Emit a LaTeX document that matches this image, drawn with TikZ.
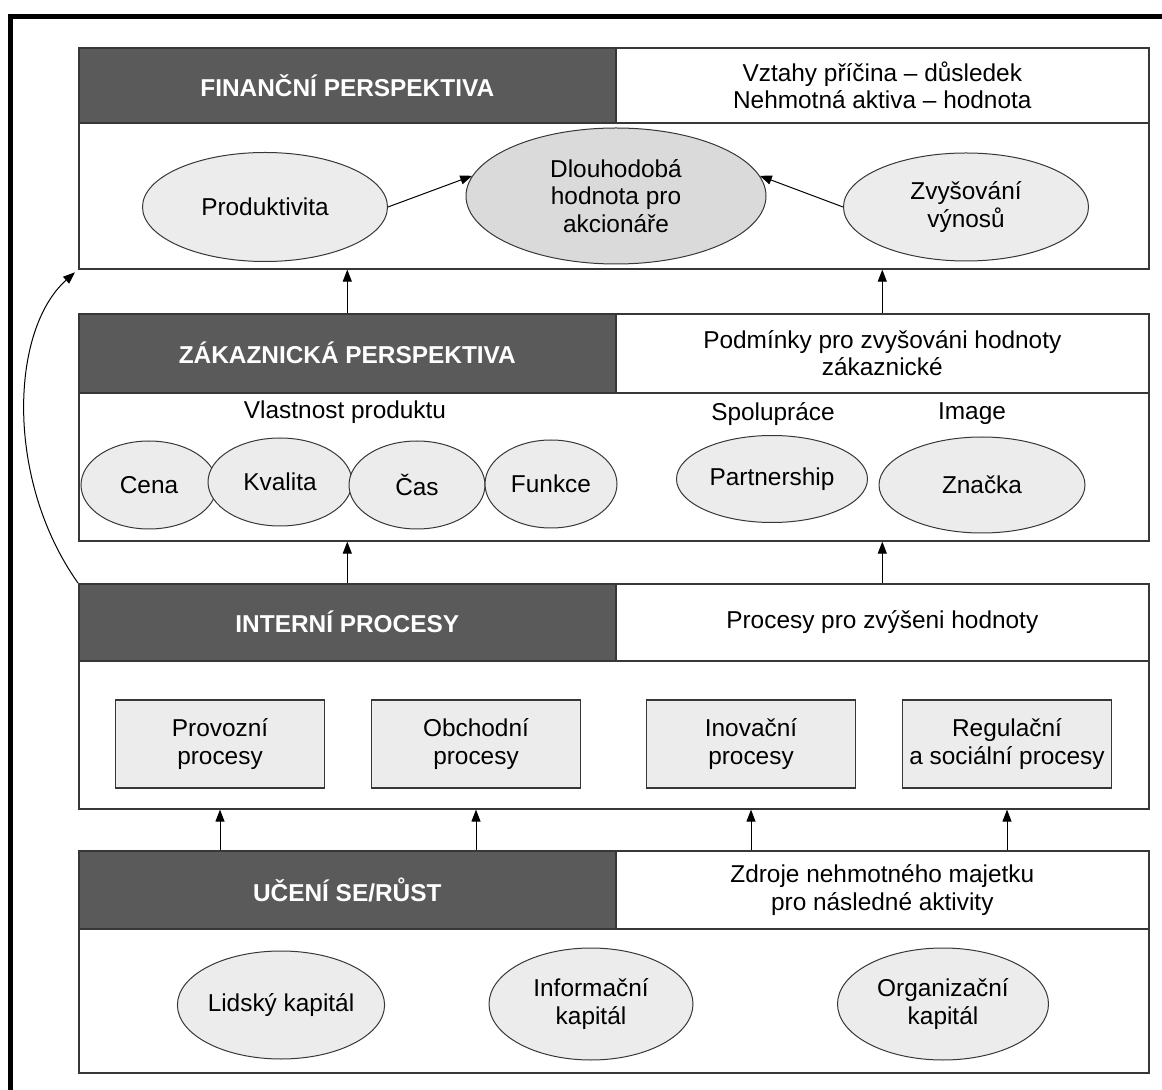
\documentclass[tikz,border=0pt]{standalone}
\usepackage{fontspec}
\setmainfont{Liberation Sans}
\usetikzlibrary{shapes.geometric,positioning,arrows.meta}

\definecolor{headgray}{RGB}{90,90,90}
\definecolor{ovalgray}{RGB}{236,236,236}
\definecolor{coregray}{RGB}{218,218,218}
\definecolor{linegray}{RGB}{55,55,55}

\tikzset{
  layer/.style={draw=linegray, line width=0.8pt, anchor=north west, inner sep=0pt, minimum width=535pt},
  headbox/.style={draw=linegray, line width=0.8pt, fill=headgray, anchor=north west, inner sep=0pt,
    minimum width=268.5pt, text=white, font=\fontsize{12.2}{14}\selectfont\bfseries},
  notebox/.style={draw=linegray, line width=0.8pt, anchor=north west, inner sep=0pt,
    minimum width=266.5pt, align=center},
  oval/.style={ellipse, draw=linegray, line width=0.5pt, fill=ovalgray, inner sep=0pt, align=center},
  procbox/.style={rectangle, draw=linegray, line width=0.8pt, fill=ovalgray, inner sep=0pt,
    minimum width=104.5pt, minimum height=44pt, align=center},
  up/.style={-{Triangle[length=6pt,width=4.5pt]}, line width=0.5pt},
}

\begin{document}
\begin{tikzpicture}[x=0.5pt, y=-0.5pt, font=\fontsize{12.2}{13.8}\selectfont]
\useasboundingbox (0,0) rectangle (1162,1090);
% frame
\draw[line width=2.5pt] (10.5,1090) |- (1162,17);

% financni perspektiva
\node[layer, minimum height=110.5pt] (fin) at (78,47) {};
\node[headbox, minimum height=37.5pt] (finhead) at (78,47) {FINANČNÍ PERSPEKTIVA};
\node[notebox, minimum height=37.5pt] (finnote) at (615,47) {Vztahy příčina – důsledek\\Nehmotná aktiva – hodnota};
\node[oval, minimum width=122.5pt, minimum height=54.5pt] (prod) at (265,207) {Produktivita};
\node[oval, fill=coregray, minimum width=150pt, minimum height=68pt] (core) at (616,196) {Dlouhodobá\\hodnota pro\\akcionáře};
\node[oval, minimum width=122.5pt, minimum height=54pt] (rev) at (966,207) {Zvyšování\\výnosů};
\draw[up] (prod.east) -- (core.172);
\draw[up] (rev.west) -- (core.8);

% zakaznicka perspektiva
\node[layer, minimum height=113.5pt] (cust) at (78,313) {};
\node[headbox, minimum height=39.5pt] (custhead) at (78,313) {ZÁKAZNICKÁ PERSPEKTIVA};
\node[notebox, minimum height=39.5pt] (custnote) at (615,313) {Podmínky pro zvyšováni hodnoty\\zákaznické};
\node (prop) at (345,412) {Vlastnost produktu};
\node (coop) at (773,414) {Spolupráce};
\node (img) at (972,414) {Image};
\node[oval, minimum width=68pt, minimum height=44pt] (price) at (149,485) {Cena};
\node[oval, minimum width=72pt, minimum height=44pt] (quality) at (280,482) {Kvalita};
\node[oval, minimum width=68pt, minimum height=44pt] (time) at (417,485) {Čas};
\node[oval, minimum width=66pt, minimum height=44pt] (func) at (551,484) {Funkce};
\node[oval, minimum width=95.5pt, minimum height=43.5pt] (partner) at (772,479) {Partnership};
\node[oval, minimum width=103pt, minimum height=48pt] (brand) at (982,485) {Značka};

% interni procesy
\node[layer, minimum height=112.5pt] (int) at (78,583) {};
\node[headbox, minimum height=38.5pt] (inthead) at (78,583) {INTERNÍ PROCESY};
\node[notebox, minimum height=38.5pt] (intnote) at (615,583) {Procesy pro zvýšeni hodnoty};
\node[procbox] (oper) at (220,744) {Provozní\\procesy};
\node[procbox] (trade) at (476,744) {Obchodní\\procesy};
\node[procbox] (innov) at (751,744) {Inovační\\procesy};
\node[procbox] (social) at (1007,744) {Regulační\\a sociální procesy};

% uceni se / rust
\node[layer, minimum height=111pt] (learn) at (78,850) {};
\node[headbox, minimum height=39pt] (learnhead) at (78,850) {UČENÍ SE/RŮST};
\node[notebox, minimum height=39pt] (learnnote) at (615,850) {Zdroje nehmotného majetku\\pro následné aktivity};
\node[oval, minimum width=103.5pt, minimum height=54pt] (human) at (281,1005) {Lidský kapitál};
\node[oval, minimum width=102pt, minimum height=56pt] (info) at (591,1004) {Informační\\kapitál};
\node[oval, minimum width=105.5pt, minimum height=56pt] (org) at (943,1004) {Organizační\\kapitál};

% sipky mezi vrstvami
\draw[up] (cust.north -| finhead) -- (fin.south -| finhead);
\draw[up] (cust.north -| finnote) -- (fin.south -| finnote);
\draw[up] (int.north -| custhead) -- (cust.south -| custhead);
\draw[up] (int.north -| custnote) -- (cust.south -| custnote);
\foreach \p in {oper,trade,innov,social}
  \draw[up] (learn.north -| \p) -- (int.south -| \p);
\draw[up, shorten >=2pt] (int.north west) .. controls (5,480) and (10,330) .. (fin.south west);
\end{tikzpicture}
\end{document}
